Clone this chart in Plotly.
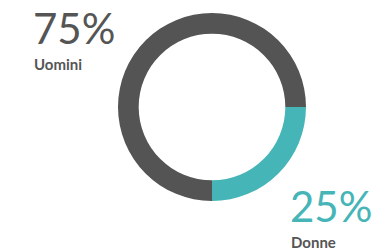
import plotly.graph_objects as go

labels = ["Donne", "Uomini"]
values = [25, 75]
colors = ["#46b5b7", "#545454"]
pct_labels = ["25%", "75%"]

fig = go.Figure(go.Pie(
    labels=labels, values=values, hole=0.78, sort=False,
    direction="clockwise", rotation=90,
    marker=dict(colors=colors, line=dict(width=0)),
    textinfo="none", hoverinfo="label+percent", showlegend=False,
    domain=dict(x=[0.3113, 0.8074], y=[0.196, 0.948]),
))

font_family = "Lato, Open Sans, sans-serif"
def px_x(v):
    return v / 379
def px_y(v):
    return 1 - v / 250

fig.add_annotation(x=px_x(31), y=px_y(1), xref="paper", yref="paper", xanchor="left", yanchor="top",
                   text=pct_labels[1], showarrow=False,
                   font=dict(family=font_family, size=42, color="#555555", weight=400))
fig.add_annotation(x=px_x(32), y=px_y(53), xref="paper", yref="paper", xanchor="left", yanchor="top",
                   text="<b>" + labels[1] + "</b>", showarrow=False,
                   font=dict(family=font_family, size=15, color="#555555"))
fig.add_annotation(x=px_x(288), y=px_y(179), xref="paper", yref="paper", xanchor="left", yanchor="top",
                   text=pct_labels[0], showarrow=False,
                   font=dict(family=font_family, size=42, color="#46b5b7", weight=400))
fig.add_annotation(x=px_x(289), y=px_y(231), xref="paper", yref="paper", xanchor="left", yanchor="top",
                   text="<b>" + labels[0] + "</b>", showarrow=False,
                   font=dict(family=font_family, size=15, color="#555555"))

fig.update_layout(width=379, height=250, margin=dict(l=0, r=0, t=0, b=0),
                  paper_bgcolor="white", plot_bgcolor="white")
fig.write_html("out.html", config={"displayModeBar": False},
               post_script="document.body.style.margin='0';")
